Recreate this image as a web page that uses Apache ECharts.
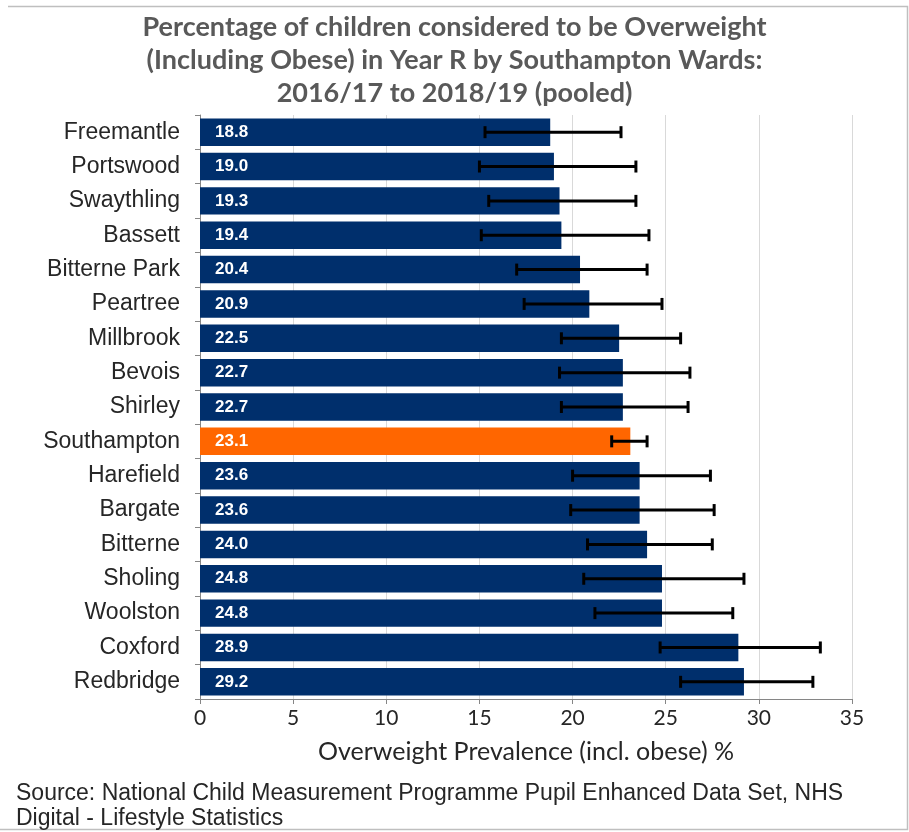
<!DOCTYPE html>
<html>
<head>
<meta charset="utf-8">
<script src="https://cdn.jsdelivr.net/npm/echarts@6/dist/echarts.min.js"></script>
<style>html,body{margin:0;padding:0;background:#fff;}#c{width:909px;height:832px;}</style>
</head>
<body>
<div id="c"></div>
<script>
const titleLines = ["Percentage of children considered to be Overweight", "(Including Obese) in Year R by Southampton Wards:", "2016/17 to 2018/19 (pooled)"];
const wards = ["Freemantle","Portswood","Swaythling","Bassett","Bitterne Park","Peartree","Millbrook","Bevois","Shirley","Southampton","Harefield","Bargate","Bitterne","Sholing","Woolston","Coxford","Redbridge"];
const prevalence = [18.8,19.0,19.3,19.4,20.4,20.9,22.5,22.7,22.7,23.1,23.6,23.6,24.0,24.8,24.8,28.9,29.2];
const lowerCI = [15.3,15.0,15.5,15.1,17.0,17.4,19.4,19.3,19.4,22.1,20.0,19.9,20.8,20.6,21.2,24.7,25.8];
const upperCI = [22.6,23.4,23.4,24.1,24.0,24.8,25.8,26.3,26.2,24.0,27.4,27.6,27.5,29.2,28.6,33.3,32.9];
const xTicks = [0,5,10,15,20,25,30,35];
const highlight = "Southampton";
const axisName = "Overweight Prevalence (incl. obese) %";
const sourceLines = ["Source: National Child Measurement Programme Pupil Enhanced Data Set, NHS", "Digital - Lifestyle Statistics"];

const chart = echarts.init(document.getElementById('c'), null, {renderer:'canvas'});
const barData = prevalence.map((v,i)=>({value:v, itemStyle:{color: wards[i]===highlight ? '#ff6600' : '#002f6c'}}));
const errData = wards.map((w,i)=>[i, lowerCI[i], upperCI[i]]);

chart.setOption({
  animation:false,
  backgroundColor:'#fff',
  title:{
    text: titleLines.join('\n'),
    left:'center', top:6,
    textStyle:{fontFamily:'Lato', fontWeight:'bold', fontSize:27, color:'#595959', lineHeight:33}
  },
  grid:{left:200, right:57, top:115, bottom:133},
  xAxis:{
    type:'value', min:xTicks[0], max:xTicks[xTicks.length-1], interval:5,
    axisLine:{show:true, lineStyle:{color:'#868686', width:1}},
    axisTick:{show:true, length:5, lineStyle:{color:'#868686'}},
    axisLabel:{fontFamily:'Lato', fontSize:21, color:'#262626', margin:9},
    splitLine:{show:true, lineStyle:{color:'#d9d9d9', width:1}},
    name: axisName, nameLocation:'middle', nameGap:40,
    nameTextStyle:{fontFamily:'Lato', fontSize:25, color:'#262626'}
  },
  yAxis:{
    type:'category', data:wards, inverse:true,
    axisLine:{show:true, lineStyle:{color:'#868686', width:1}},
    axisTick:{show:true, length:5, lineStyle:{color:'#868686'}},
    axisLabel:{fontFamily:'Liberation Sans', fontSize:23, color:'#262626', margin:20}
  },
  series:[
    {
      type:'bar', data:barData, barCategoryGap:'20%',
      label:{show:true, position:'insideLeft', distance:15, formatter:p=>p.value.toFixed(1),
        fontFamily:'Liberation Sans', fontWeight:'bold', fontSize:17, color:'#fff'}
    },
    {
      type:'custom', data:errData, encode:{y:0, x:[1,2]}, z:5,
      renderItem:(params, api)=>{
        const idx = api.value(0);
        const lo = api.coord([api.value(1), idx]);
        const hi = api.coord([api.value(2), idx]);
        const h = 6;
        const style = {stroke:'#000', lineWidth:3};
        return {type:'group', children:[
          {type:'line', shape:{x1:lo[0], y1:lo[1], x2:hi[0], y2:hi[1]}, style},
          {type:'line', shape:{x1:lo[0], y1:lo[1]-h, x2:lo[0], y2:lo[1]+h}, style},
          {type:'line', shape:{x1:hi[0], y1:hi[1]-h, x2:hi[0], y2:hi[1]+h}, style}
        ]};
      }
    }
  ],
  graphic:[
    {type:'polyline', shape:{points:[[8,6.5],[907.5,6.5],[907.5,829.5],[0,829.5]]}, style:{fill:'none', stroke:'#bfbfbf', lineWidth:1.5}, silent:true},
    {type:'text', left:16, top:781, style:{text:sourceLines.join('\n'), fontFamily:'Liberation Sans', fontSize:23, fill:'#262626', lineHeight:25}}
  ]
});
</script>
</body>
</html>
